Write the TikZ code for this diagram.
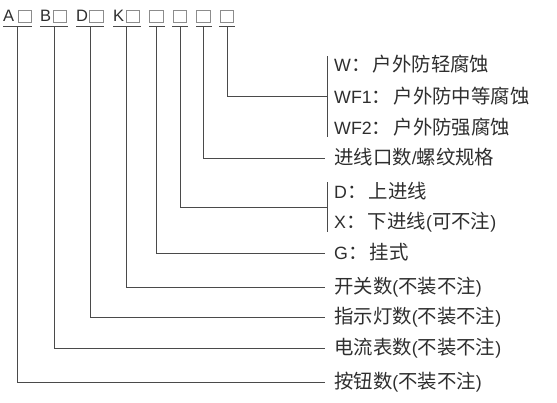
\documentclass[tikz,border=0pt]{standalone}
\usepackage{fontspec}
\setmainfont{Liberation Sans}
\newfontfamily\cjkfont{Noto Sans CJK SC}
\newcommand\zh[1]{{\cjkfont\fontsize{19.4}{22}\selectfont #1}}
\newcommand\zcolon{\zh{：}\hspace{2.5pt}}
\definecolor{txtc}{HTML}{2E2E2E}
\definecolor{linec}{HTML}{4A4A4A}
\definecolor{boxc}{HTML}{8C8C8C}
\begin{document}
\begin{tikzpicture}[x=1pt,y=-1pt,
  conn/.style={draw=linec,line width=0.8pt},
  ul/.style={draw=linec,line width=0.9pt},
  cbox/.style={draw=boxc,line width=0.7pt,minimum width=13.5pt,minimum height=12pt,inner sep=0pt},
  lbl/.style={anchor=base west,inner sep=0pt,text=txtc,font=\fontsize{17.8}{20}\selectfont},
  toplbl/.style={anchor=base west,inner sep=0pt,text=txtc,font=\fontsize{16.5}{18}\selectfont}]
\useasboundingbox (0,0) rectangle (557,402);
% top code
\node[toplbl] (lA) at (3,21.5) {A};
\node[toplbl] (lB) at (40,21.5) {B};
\node[toplbl] (lD) at (76,21.5) {D};
\node[toplbl] (lK) at (113,21.5) {K};
\node[cbox] (bA) at (25,16) {};
\node[cbox] (bB) at (60,16) {};
\node[cbox] (bD) at (96.5,16) {};
\node[cbox] (bK) at (133,16) {};
\node[cbox] (b5) at (156.5,16) {};
\node[cbox] (b6) at (180,16) {};
\node[cbox] (b7) at (203.5,16) {};
\node[cbox] (b8) at (227,16) {};
\draw[ul] (3,26) -- (32,26);
\draw[ul] (40,26) -- (68,26);
\draw[ul] (76,26) -- (104,26);
\draw[ul] (113,26) -- (141,26);
\draw[ul] (149,26) -- (165,26);
\draw[ul] (172,26) -- (188,26);
\draw[ul] (196,26) -- (212,26);
\draw[ul] (219,26) -- (235,26);
% vertical tops
\coordinate (vA) at (17,26);
\coordinate (vB) at (54,26);
\coordinate (vD) at (90,26);
\coordinate (vK) at (126,26);
\coordinate (v5) at (156,26);
\coordinate (v6) at (180,26);
\coordinate (v7) at (203,26);
\coordinate (v8) at (227,26);
% line ends
\coordinate (e8) at (327,96);
\coordinate (e7) at (325,158);
\coordinate (e6) at (327,207);
\coordinate (e5) at (325,253);
\coordinate (eK) at (325,287);
\coordinate (eD) at (325,317);
\coordinate (eB) at (325,348);
\coordinate (eA) at (325,382);
% brackets
\coordinate (k1t) at (327,56);
\coordinate (k1b) at (327,137);
\coordinate (k2t) at (327,182);
\coordinate (k2b) at (327,232);
\draw[conn] (k1t) -- (k1b);
\draw[conn] (k2t) -- (k2b);
% connectors
\draw[conn] (v8) |- (e8);
\draw[conn] (v7) |- (e7);
\draw[conn] (v6) |- (e6);
\draw[conn] (v5) |- (e5);
\draw[conn] (vK) |- (eK);
\draw[conn] (vD) |- (eD);
\draw[conn] (vB) |- (eB);
\draw[conn] (vA) |- (eA);
% labels
\node[lbl] (tW) at (334,71) {W\zcolon\zh{户外防轻腐蚀}};
\node[lbl] (tWF1) at (334,103.5) {WF1\zcolon\zh{户外防中等腐蚀}};
\node[lbl] (tWF2) at (334,134.5) {WF2\zcolon\zh{户外防强腐蚀}};
\node[lbl] (tJ) at (334,164.5) {\zh{进线口数}/\zh{螺纹规格}};
\node[lbl] (tDD) at (334,198.5) {D\zcolon\zh{上进线}};
\node[lbl] (tX) at (334,228.5) {X\zcolon\zh{下进线}(\zh{可不注})};
\node[lbl] (tG) at (334,259.5) {G\zcolon\zh{挂式}};
\node[lbl] (tK) at (334,293.5) {\zh{开关数}(\zh{不装不注})};
\node[lbl] (tD) at (334,323.5) {\zh{指示灯数}(\zh{不装不注})};
\node[lbl] (tB) at (334,354.5) {\zh{电流表数}(\zh{不装不注})};
\node[lbl] (tA) at (334,388.5) {\zh{按钮数}(\zh{不装不注})};
\end{tikzpicture}
\end{document}
